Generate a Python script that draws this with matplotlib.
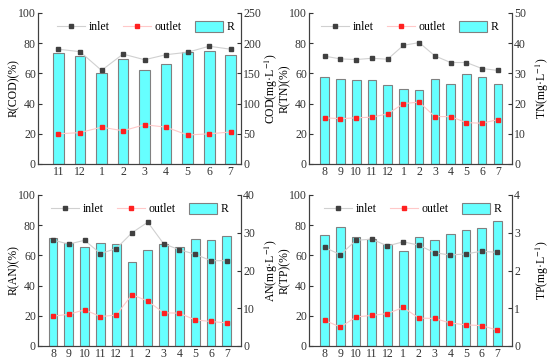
import matplotlib
matplotlib.use('Agg')
import matplotlib.pyplot as plt
from matplotlib.patches import Patch
from matplotlib.lines import Line2D
import numpy as np

plt.rcParams['font.family'] = ['Liberation Serif', 'DejaVu Serif']
plt.rcParams['mathtext.fontset'] = 'stix'
plt.rcParams['font.size'] = 8.5

# data
months_cod = ['11', '12', '1', '2', '3', '4', '5', '6', '7']
months = ['8', '9', '10', '11', '12', '1', '2', '3', '4', '5', '6', '7']

r_cod = [73.5, 71.2, 60.2, 69.5, 62.4, 66.4, 74.1, 74.6, 72.1]
in_cod = [190, 186, 155, 182, 172.6, 181, 185, 195, 190]
out_cod = [50, 52, 61, 55, 65, 61, 48, 50, 53]

r_tn = [57.3, 56.6, 55.8, 55.5, 52.2, 49.6, 48.9, 56.2, 53.1, 59.3, 57.3, 52.7]
in_tn = [35.7, 34.8, 34.6, 35.0, 34.7, 39.3, 40.2, 35.8, 33.6, 33.6, 31.6, 31.0]
out_tn = [15.3, 15.0, 15.3, 15.5, 16.6, 20.0, 20.5, 15.7, 15.7, 13.7, 13.5, 14.7]

r_an = [71.2, 68.1, 65.3, 68.1, 67.7, 55.3, 63.5, 67.5, 65.5, 71.0, 70.1, 72.6]
in_an = [28.05, 27.0, 28.0, 24.5, 25.8, 30.0, 32.8, 27.1, 25.5, 24.3, 22.6, 22.6]
out_an = [7.9, 8.4, 9.6, 7.8, 8.2, 13.6, 11.9, 8.8, 8.7, 6.9, 6.5, 6.1]

r_tp = [73.5, 78.5, 72.3, 71.0, 67.3, 62.8, 71.9, 70.1, 74.1, 76.8, 78.1, 83.0]
in_tp = [2.61, 2.42, 2.80, 2.83, 2.65, 2.76, 2.67, 2.47, 2.41, 2.44, 2.51, 2.48]
out_tp = [0.68, 0.50, 0.77, 0.81, 0.86, 1.02, 0.74, 0.73, 0.61, 0.56, 0.54, 0.42]

panels = [
    # labels, R, inlet, outlet, name, right max, right step, axes box (px), bar width, xlim pad, legend x
    (months_cod, r_cod, in_cod, out_cod, 'COD', 250, 50, [38, 13, 241, 164], 0.5, (0.95, 0.48), 0.07),
    (months, r_tn, in_tn, out_tn, 'TN', 50, 10, [309, 13, 512, 164], 0.55, (1.0, 0.9), 0.035),
    (months, r_an, in_an, out_an, 'AN', 40, 10, [38, 195, 241, 346], 0.55, (0.95, 0.9), 0.04),
    (months, r_tp, in_tp, out_tp, 'TP', 4, 1, [309, 195, 512, 346], 0.55, (1.0, 0.93), 0.05),
]

W, H = 550, 364
fig = plt.figure(figsize=(W / 100, H / 100), dpi=100)

for labels, r, inl, outl, name, rmax, rstep, box, bw, pad, lx in panels:
    x0, y0, x1, y1 = box
    ax = fig.add_axes([x0 / W, 1 - y1 / H, (x1 - x0) / W, (y1 - y0) / H])
    x = np.arange(len(labels))
    ax.bar(x, r, width=bw, color='#66ffff', edgecolor='#808080', linewidth=0.8, zorder=2)
    ax.set_xlim(-pad[0], len(labels) - 1 + pad[1])
    ax.set_ylim(0, 100)
    ax.set_yticks(np.arange(0, 101, 20))
    ax.set_xticks(x)
    ax.set_xticklabels(labels)
    ax.set_ylabel(f'R({name})(%)')
    ax.yaxis.set_label_coords(-0.09, 0.5)

    ax2 = ax.twinx()
    ax2.plot(x, inl, color='#d0d0d0', linewidth=0.8, marker='s', markersize=3,
             markerfacecolor='#404040', markeredgecolor='#404040', zorder=3)
    ax2.plot(x, outl, color='#ffc8c8', linewidth=0.8, marker='s', markersize=3,
             markerfacecolor='#ff2020', markeredgecolor='#ff2020', zorder=3)
    ax2.set_ylim(0, rmax)
    ax2.set_yticks(np.arange(0, rmax + rstep / 2, rstep))
    ax2.set_ylabel(f'{name}(mg·L$^{{-1}}$)', rotation=90)
    ax2.yaxis.set_label_coords(1.105, 0.5)

    for a in (ax, ax2):
        a.spines['top'].set_visible(False)
        for s in a.spines.values():
            s.set_color('#404040')
            s.set_linewidth(0.8)
        a.tick_params(direction='in', length=3, width=0.8, colors='#333333', pad=1.5)

    handles = [
        Line2D([], [], color='#d0d0d0', linewidth=0.8, marker='s', markersize=3,
               markerfacecolor='#404040', markeredgecolor='#404040'),
        Line2D([], [], color='#ffc8c8', linewidth=0.8, marker='s', markersize=3,
               markerfacecolor='#ff2020', markeredgecolor='#ff2020'),
        Patch(facecolor='#66ffff', edgecolor='#808080', linewidth=0.8),
    ]
    ax2.legend(handles, ['inlet', 'outlet', 'R'], ncol=3, frameon=False,
               loc='upper left', bbox_to_anchor=(lx, 0.98), borderaxespad=0,
               handlelength=2.4, handleheight=1.1, handletextpad=0.3,
               columnspacing=1.1, fontsize=8.5)

plt.savefig('out.png', dpi=100)
plt.close()
